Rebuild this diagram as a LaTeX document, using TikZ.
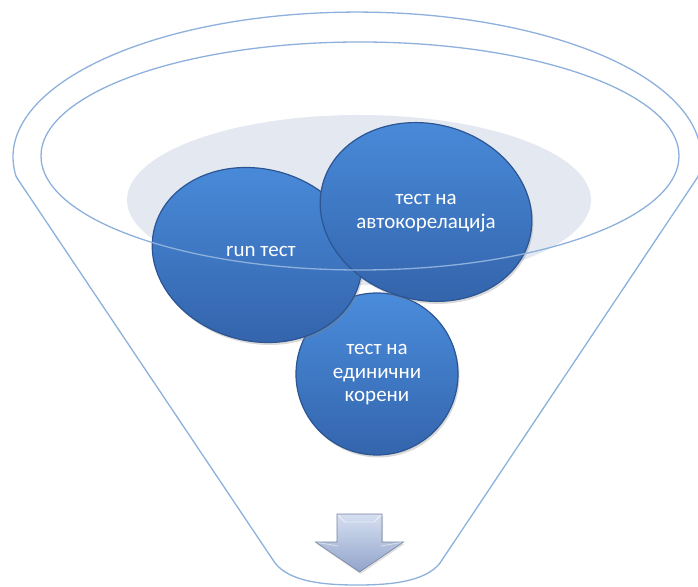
\documentclass[tikz,border=0pt]{standalone}
\usepackage{fontspec}
\setmainfont{Carlito}
\usetikzlibrary{shadows}
\definecolor{funnelline}{HTML}{8DB0DC}
\definecolor{balltop}{HTML}{4A8CDB}
\definecolor{ballbot}{HTML}{3465AD}
\definecolor{ballrim}{HTML}{2B5593}
\definecolor{traygray}{HTML}{E3E8F1}
\definecolor{arrowtop}{HTML}{D6DFF1}
\definecolor{arrowbot}{HTML}{91A4CB}

\begin{document}
\begin{tikzpicture}[x=1pt,y=1pt,
  funnel/.style={draw=funnelline,line width=1.3pt},
  ball/.style={top color=balltop,bottom color=ballbot,draw=ballrim,line width=1.2pt,
    drop shadow={opacity=0.3,shadow xshift=1.5pt,shadow yshift=-2.5pt}},
  balltext/.style={text=white,font=\fontsize{21}{23.5}\selectfont,align=center},
  arrowbox/.style={top color=arrowtop,bottom color=arrowbot,draw=arrowbot!80!black,line width=0.6pt,
    drop shadow={opacity=0.25,shadow xshift=1pt,shadow yshift=-2pt}}]
\useasboundingbox (0,0) rectangle (698,586);

% gray tray inside the rim
\fill[traygray] (359,386) ellipse[x radius=232,y radius=85];

% the three balls, back to front
\path[ball] (377,212) circle[radius=81];
\path[ball,rotate around={-15:(257,331)}] (257,331) ellipse[x radius=106,y radius=86];
\path[ball,rotate around={-15:(426,374)}] (426,374) ellipse[x radius=107,y radius=88];

% inner rim and funnel body
\draw[funnel] (360,430) ellipse[x radius=319,y radius=114];
\draw[funnel] (16.3,409) arc[start angle=187.9,end angle=-7.9,x radius=344,y radius=145]
  -- (440,23) .. controls (425,4) and (390,1) .. (357,1)
  .. controls (324,1) and (290,4) .. (275,23) -- cycle;

% output arrow, with light bevel edges
\path[arrowbox] (337,72) -- (382,72) -- (382,44) -- (403.5,44) -- (359.5,14)
  -- (315.5,44) -- (337,44) -- cycle;
\draw[white,opacity=0.6,line width=0.8pt] (338,71) -- (345,64) -- (374,64) -- (381,71);
\draw[white,opacity=0.5,line width=0.8pt] (318,43.5) -- (338,40) (401,43.5) -- (381,40);

\node[balltext] (run) at (261,335) {run тест};
\node[balltext] (auto) at (426,373) {тест на\\автокорелација};
\node[balltext] (unit) at (377,211) {тест на\\единични\\корени};
\end{tikzpicture}
\end{document}
